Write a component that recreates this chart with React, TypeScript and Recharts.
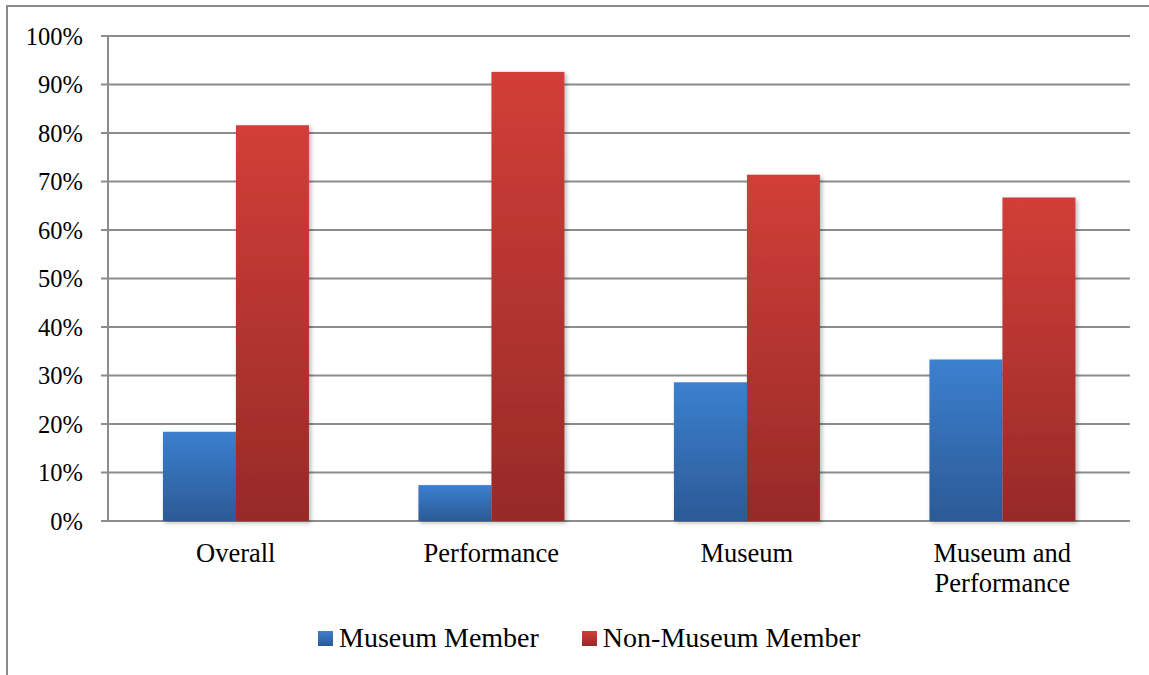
import { Bar, BarChart, CartesianGrid, XAxis, YAxis } from "recharts";

// values, percent of respondents
const CATEGORIES = ["Overall", "Performance", "Museum", "Museum and Performance"];
const MEMBER = [18.4, 7.4, 28.6, 33.3];
const NON_MEMBER = [81.6, 92.6, 71.4, 66.7];
const Y_TICKS = [0, 10, 20, 30, 40, 50, 60, 70, 80, 90, 100];
const EDGE_TICKS = [0, 1, 2, 3, 4];

const SERIES = [
  { key: "member", name: "Museum Member", grad: "gradBlue", top: "#3c80d0", bottom: "#2b5a96" },
  { key: "nonMember", name: "Non-Museum Member", grad: "gradRed", top: "#d23e39", bottom: "#972a28" },
];

const AXIS = "#8c8c8c";
const FONT = "'Liberation Serif', 'Times New Roman', serif";

const data = CATEGORIES.map((name, i) => ({
  name,
  member: MEMBER[i],
  nonMember: NON_MEMBER[i],
}));

// greedy word wrap, ~12 characters per line like the original labels
function wrapLabel(label: string, maxChars = 12) {
  const lines: string[] = [];
  let cur = "";
  for (const word of label.split(" ")) {
    const next = cur ? `${cur} ${word}` : word;
    if (cur && next.length > maxChars) {
      lines.push(cur);
      cur = word;
    } else {
      cur = next;
    }
  }
  if (cur) lines.push(cur);
  return lines;
}

function CategoryTick(props: any) {
  const { x, y, payload } = props;
  const lines = wrapLabel(String(payload.value));
  return (
    <text x={x} y={y + 41} textAnchor="middle" fontSize={26.5} fontFamily={FONT} fill="#000">
      {lines.map((line, i) => (
        <tspan key={i} x={x} dy={i === 0 ? 0 : 30}>
          {line}
        </tspan>
      ))}
    </text>
  );
}

function ShadowBar(props: any) {
  const { x, y, width, height, fill } = props;
  if (!height || height <= 0) return <g />;
  return <rect x={x} y={y} width={width} height={height} fill={fill} filter="url(#barShadow)" />;
}

export default function App() {
  return (
    <div
      style={{
        position: "absolute",
        left: 0,
        top: 0,
        width: 1149,
        height: 675,
        background: "#fff",
        overflow: "hidden",
        fontFamily: FONT,
      }}
    >
      <div
        style={{
          position: "absolute",
          left: 6,
          top: 5,
          width: 1300,
          height: 800,
          borderLeft: "2px solid #8a8a8a",
          borderTop: "2px solid #8a8a8a",
        }}
      />
      <BarChart
        width={1149}
        height={675}
        data={data}
        margin={{ top: 36, right: 19, left: 0, bottom: 74 }}
        barCategoryGap="21.5%"
        barGap={0}
        style={{ position: "absolute", left: 0, top: 0 }}
      >
        <defs>
          {SERIES.map((s) => (
            <linearGradient key={s.grad} id={s.grad} x1="0" y1="0" x2="0" y2="1">
              <stop offset="0%" stopColor={s.top} />
              <stop offset="100%" stopColor={s.bottom} />
            </linearGradient>
          ))}
          <filter id="barShadow" x="-10%" y="-10%" width="130%" height="130%">
            <feDropShadow dx="2" dy="2" stdDeviation="2" floodColor="#000" floodOpacity="0.28" />
          </filter>
        </defs>
        <CartesianGrid vertical={false} stroke={AXIS} strokeWidth={2} />
        <XAxis
          xAxisId="edges"
          type="number"
          domain={[0, 4]}
          ticks={EDGE_TICKS}
          tick={false}
          height={0}
          tickSize={7}
          axisLine={{ stroke: AXIS, strokeWidth: 2 }}
          tickLine={{ stroke: AXIS, strokeWidth: 2 }}
        />
        <XAxis
          xAxisId="cat"
          dataKey="name"
          height={80}
          axisLine={false}
          tickLine={false}
          tickSize={0}
          tickMargin={0}
          interval={0}
          tick={<CategoryTick />}
        />
        <YAxis
          width={108}
          domain={[0, 100]}
          ticks={Y_TICKS}
          interval={0}
          tickFormatter={(v: number) => `${v}%`}
          tickSize={7}
          tickMargin={18}
          axisLine={{ stroke: AXIS, strokeWidth: 2 }}
          tickLine={{ stroke: AXIS, strokeWidth: 2 }}
          tick={{ fontSize: 24.5, fontFamily: FONT, fill: "#000" }}
        />
        {SERIES.map((s) => (
          <Bar
            key={s.key}
            xAxisId="cat"
            dataKey={s.key}
            name={s.name}
            fill={`url(#${s.grad})`}
            shape={<ShadowBar />}
            isAnimationActive={false}
          />
        ))}
      </BarChart>
      <div
        style={{
          position: "absolute",
          left: 318,
          top: 622,
          display: "flex",
          alignItems: "center",
          gap: 43,
          fontSize: 28,
          color: "#000",
          whiteSpace: "nowrap",
        }}
      >
        {SERIES.map((s) => (
          <div key={s.key} style={{ display: "flex", alignItems: "center" }}>
            <span
              style={{
                display: "inline-block",
                width: 15,
                height: 15,
                marginRight: 6,
                background: `linear-gradient(${s.top}, ${s.bottom})`,
              }}
            />
            <span>{s.name}</span>
          </div>
        ))}
      </div>
    </div>
  );
}
